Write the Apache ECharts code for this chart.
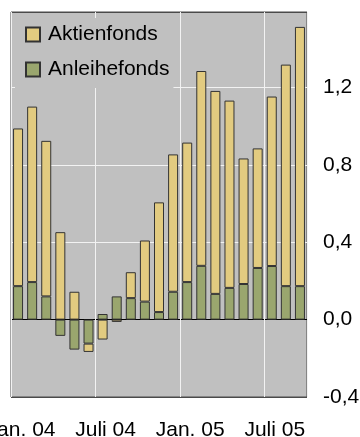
<!DOCTYPE html>
<html>
<head>
<meta charset="utf-8">
<script src="https://cdn.jsdelivr.net/npm/echarts@6/dist/echarts.min.js"></script>
<style>
    html, body { margin: 0; padding: 0; background: #fff; }
    #chart { width: 360px; height: 437px; }
</style>
</head>
<body>
<div id="chart"></div>
<script>
// Monate Jan. 04 - Sep. 05
var months = ['Jan. 04', 'Feb. 04', 'März 04', 'Apr. 04', 'Mai 04', 'Juni 04', 'Juli 04', 'Aug. 04', 'Sep. 04', 'Okt. 04', 'Nov. 04', 'Dez. 04',
    'Jan. 05', 'Feb. 05', 'März 05', 'Apr. 05', 'Mai 05', 'Juni 05', 'Juli 05', 'Aug. 05', 'Sep. 05'];
var tickMonths = ['Jan. 04', 'Juli 04', 'Jan. 05', 'Juli 05'];

// Anleihefonds (unten im Stapel) / Aktienfonds (oben)
var anleihefonds = [0.173, 0.194, 0.120, -0.084, -0.155, -0.124, 0.029, 0.120, 0.111, 0.093, 0.039, 0.144,
    0.194, 0.278, 0.133, 0.164, 0.184, 0.267, 0.277, 0.173, 0.173];
var aktienfonds = [0.815, 0.907, 0.804, 0.452, 0.144, -0.043, -0.103, -0.012, 0.134, 0.316, 0.567, 0.710,
    0.721, 1.007, 1.049, 0.968, 0.649, 0.618, 0.876, 1.145, 1.340];

var yTicks = [-0.4, 0, 0.4, 0.8, 1.2];

var font = 'Liberation Sans, Arial, sans-serif';
var myChart = echarts.init(document.getElementById('chart'));

var option = {
    animation: false,
    textStyle: { fontFamily: font },
    grid: {
        left: 11,
        right: 53,
        top: 12,
        bottom: 40,
        outerBoundsMode: 'none',
        containLabel: false,
        show: true,
        backgroundColor: '#c0c0c0',
        borderColor: '#4a4a4a',
        borderWidth: 1
    },
    legend: {
        orient: 'vertical',
        left: 15,
        top: 18,
        padding: [6, 4, 8, 10],
        itemGap: 14,
        itemWidth: 14,
        itemHeight: 14,
        icon: 'rect',
        backgroundColor: '#c0c0c0',
        data: ['Aktienfonds', 'Anleihefonds'],
        textStyle: {
            fontFamily: font,
            fontSize: 21,
            color: '#000',
            padding: [0, 0, 5, 3]
        }
    },
    xAxis: {
        type: 'category',
        data: months,
        axisLine: { show: false, onZero: false },
        axisTick: { show: false },
        axisLabel: {
            interval: 5,
            margin: 23,
            fontSize: 21,
            color: '#000',
            padding: [0, 0, 0, 6],
            formatter: function(v) {
                return tickMonths.indexOf(v) >= 0 ? v : '';
            }
        },
        splitLine: {
            show: true,
            interval: 5,
            lineStyle: { color: '#f2f2f2', width: 1 }
        }
    },
    yAxis: {
        type: 'value',
        position: 'right',
        min: -0.4,
        max: 1.59,
        interval: 0.4,
        axisLine: { show: false },
        axisTick: { show: false },
        axisLabel: {
            margin: 16,
            fontSize: 21,
            color: '#000',
            showMaxLabel: false,
            formatter: function(v) {
                for (var i = 0; i < yTicks.length; i++) {
                    if (Math.abs(yTicks[i] - v) < 1e-6) return yTicks[i].toFixed(1).replace('.', ',');
                }
                return '';
            }
        },
        splitLine: {
            show: true,
            // -0,4 | 0,0 (schwarz) | 0,4 | 0,8 | 1,2 | oben
            lineStyle: { color: ['#4a4a4a', '#000', '#f2f2f2', '#f2f2f2', '#f2f2f2', '#4a4a4a'], width: 1 }
        }
    },
    series: [{
        name: 'Anleihefonds',
        type: 'bar',
        stack: 'fonds',
        barWidth: 10,
        data: anleihefonds,
        itemStyle: { color: '#9aa66e', borderColor: '#333', borderWidth: 1 }
    }, {
        name: 'Aktienfonds',
        type: 'bar',
        stack: 'fonds',
        barWidth: 10,
        data: aktienfonds,
        itemStyle: { color: '#e2cb80', borderColor: '#333', borderWidth: 1 }
    }]
};

myChart.setOption(option);
</script>
</body>
</html>
